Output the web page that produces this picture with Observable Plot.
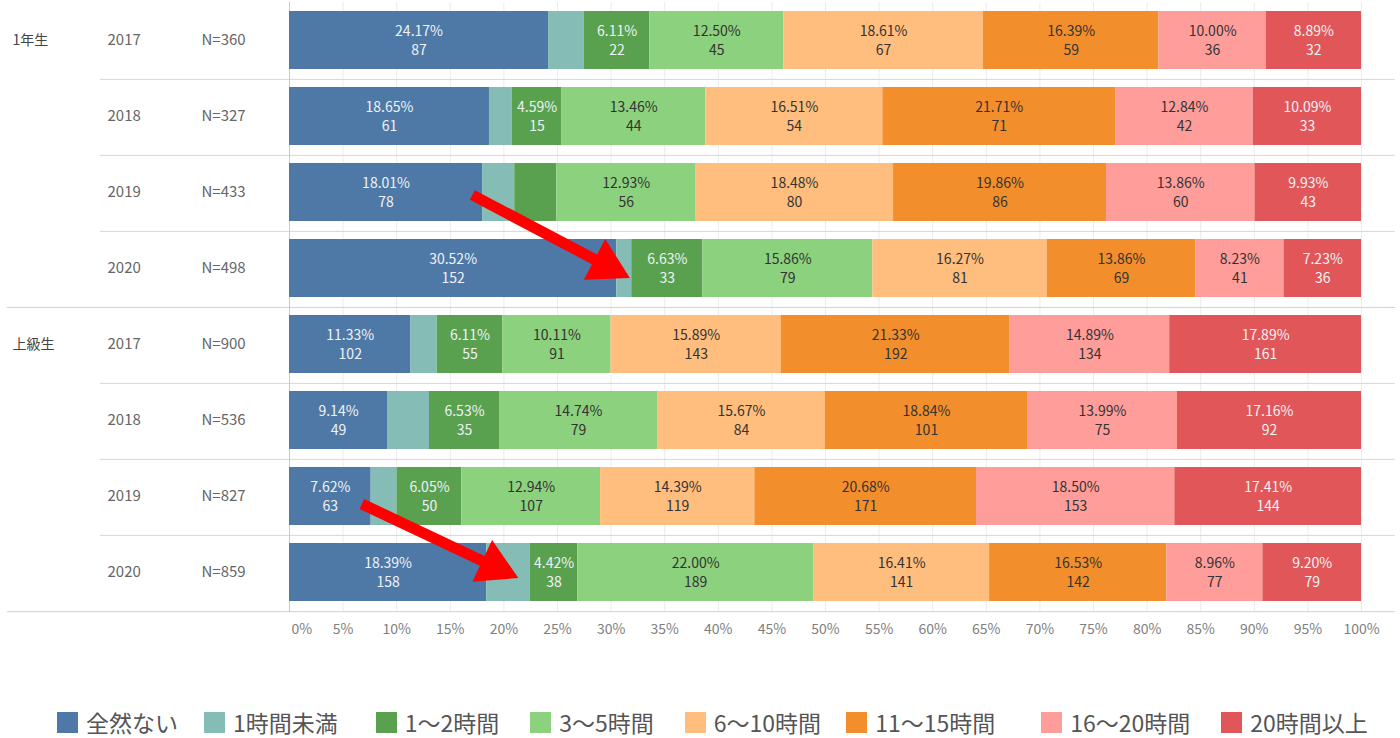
<!DOCTYPE html>
<html><head><meta charset="utf-8">
<script src="https://cdn.jsdelivr.net/npm/d3@7"></script>
<script src="https://cdn.jsdelivr.net/npm/@observablehq/plot@0.6"></script>
<style>
body{margin:0;background:#fff;}
#chart svg{display:block}
#legend{padding-left:57px;margin-top:63px;}
.lg-swatch{margin-right:26px !important;}
.lg-swatch > svg{margin-right:8px !important;}
.lg-swatch:nth-of-type(2){margin-right:38px !important;}
.lg-swatch:nth-of-type(3){margin-right:31px !important;}
.lg-swatch:nth-of-type(4){margin-right:31px !important;}
.lg-swatch:nth-of-type(5){margin-right:25px !important;}
.lg-swatch:nth-of-type(6){margin-right:46px !important;}
.lg-swatch:nth-of-type(7){margin-right:31px !important;}
</style></head><body><div id="chart"></div><div id="legend"></div>
<script>
// ---- data ----
const categories = ["全然ない","1時間未満","1～2時間","3～5時間","6～10時間","11～15時間","16～20時間","20時間以上"];
const colors = ["#4e79a7","#86bcb6","#59a14f","#8cd17d","#ffbe7d","#f28e2b","#ff9d9a","#e15759"];
const groups = ["1年生","1年生","1年生","1年生","上級生","上級生","上級生","上級生"];
const years = [2017,2018,2019,2020,2017,2018,2019,2020];
const totals = [360,327,433,498,900,536,827,859];
const countNone   = [87,61,78,152,102,49,63,158];
const countLt1    = [12,7,13,7,22,21,20,35];
const count1to2   = [22,15,17,33,55,35,50,38];
const count3to5   = [45,44,56,79,91,79,107,189];
const count6to10  = [67,54,80,81,143,84,119,141];
const count11to15 = [59,71,86,69,192,101,171,142];
const count16to20 = [36,42,60,41,134,75,153,77];
const count20plus = [32,33,43,36,161,92,144,79];
const seriesCounts = [countNone,countLt1,count1to2,count3to5,count6to10,count11to15,count16to20,count20plus];
const lightTextCats = ["全然ない","1～2時間","20時間以上"];
const xTicks = [0,5,10,15,20,25,30,35,40,45,50,55,60,65,70,75,80,85,90,95,100];
// annotation arrows (x in %, rows by key)
const arrowFromX = [17.1, 6.8];
const arrowFromRow = ["1年生|2019","上級生|2019"];
const arrowToX = [31.8, 21.4];
const arrowToRow = ["1年生|2020","上級生|2020"];

// ---- build tables ----
const rows = groups.map((g,i)=>({key:`${g}|${years[i]}`, group:g, year:String(years[i]), n:`N=${totals[i]}`, total:totals[i], first: i===0 || groups[i-1]!==g}));
const segs = [];
rows.forEach((r,i)=>{
  let acc = 0;
  categories.forEach((c,j)=>{
    const cnt = seriesCounts[j][i];
    const pct = cnt / r.total * 100;
    segs.push({row:r.key, cat:c, count:cnt, pct, x1:acc, x2:acc+pct});
    acc += pct;
  });
});
const labelSegs = segs.filter(d=>d.pct>=4.2);
const labelText = d=>`${d.pct.toFixed(2)}%\n${d.count}`;
const arrows = arrowFromX.map((v,i)=>({fx:v, fr:arrowFromRow[i], tx:arrowToX[i], tr:arrowToRow[i]}));

const W=1400, H=642, ML=289, MR=39, MT=2, MB=30;
const step = (H-MT-MB)/rows.length;
const font = '"Noto Sans CJK JP","Noto Sans",sans-serif';

function arrowMark(index, scales, values, dimensions, context){
  const {x, y} = scales;
  const bw = y.bandwidth ? y.bandwidth() : 0;
  const g = d3.create("svg:g");
  const shaft = 11, headL = 40, headW = 46;
  const offs = [[2,9],[7,5]];
  arrows.forEach((a,i)=>{
    const x0 = x(a.fx), y0 = y(a.fr)+bw/2+offs[i][0];
    const x1 = x(a.tx), y1 = y(a.tr)+bw/2+offs[i][1];
    const dx = x1-x0, dy = y1-y0, L = Math.hypot(dx,dy);
    const ux = dx/L, uy = dy/L, nx = -uy, ny = ux;
    const bx = x1-ux*headL, by = y1-uy*headL;
    const pts = [
      [x0+nx*shaft/2, y0+ny*shaft/2],
      [bx+nx*shaft/2, by+ny*shaft/2],
      [bx+nx*headW/2, by+ny*headW/2],
      [x1, y1],
      [bx-nx*headW/2, by-ny*headW/2],
      [bx-nx*shaft/2, by-ny*shaft/2],
      [x0-nx*shaft/2, y0-ny*shaft/2]
    ];
    g.append("polygon").attr("points", pts.map(p=>p.join(",")).join(" ")).attr("fill","#ff0000");
  });
  return g.node();
}

const plot = Plot.plot({
  width: W, height: H,
  marginLeft: ML, marginRight: MR, marginTop: MT, marginBottom: MB,
  style: {fontFamily: font, fontSize: "14px", background: "#fff", overflow: "visible"},
  x: {domain: [0,100]},
  y: {domain: rows.map(r=>r.key), paddingInner: 0.24, paddingOuter: 0.12, axis: null},
  color: {domain: categories, range: colors, type: "ordinal"},
  marks: [
    Plot.gridX(xTicks, {stroke: "#ececec", strokeOpacity: 1}),
    Plot.ruleY(rows.filter(r=>!r.first), {y: "key", dy: -step/2, stroke: "#d6d6d6", insetLeft: -(ML-100), insetRight: -34}),
    Plot.ruleY(rows.filter((r,i)=>r.first && i>0), {y: "key", dy: -step/2, stroke: "#d0d0d0", insetLeft: -(ML-7), insetRight: -34}),
    Plot.ruleY(rows.slice(-1), {y: "key", dy: step/2, stroke: "#d0d0d0", insetLeft: -(ML-7), insetRight: -34}),
    Plot.ruleX([0], {stroke: "#c8c8c8"}),
    Plot.barX(segs, {x1: "x1", x2: "x2", y: "row", fill: "cat", dy: -1}),
    Plot.text(labelSegs.filter(d=>lightTextCats.includes(d.cat)), {x: d=>(d.x1+d.x2)/2, y: "row", text: labelText, fill: "#eef2f6", lineHeight: 1.36, fontSize: 14, dy: -2}),
    Plot.text(labelSegs.filter(d=>!lightTextCats.includes(d.cat)), {x: d=>(d.x1+d.x2)/2, y: "row", text: labelText, fill: "#333", lineHeight: 1.36, fontSize: 14, dy: -2}),
    Plot.text(rows.filter(r=>r.first), {y: "key", text: "group", frameAnchor: "left", textAnchor: "start", dx: 12-ML, dy: -1, fill: "#444", fontSize: 14}),
    Plot.text(rows, {y: "key", text: "year", frameAnchor: "left", textAnchor: "start", dx: 107-ML, dy: -1, fill: "#666", fontSize: 15}),
    Plot.text(rows, {y: "key", text: "n", frameAnchor: "left", textAnchor: "start", dx: 201-ML, dy: -1, fill: "#666", fontSize: 15}),
    arrowMark,
    Plot.axisX(xTicks.slice(1), {tickSize: 0, tickPadding: 12, tickFormat: d=>d+"%", color: "#808080", fontSize: 14}),
    Plot.axisX(xTicks.slice(0,1), {tickSize: 0, tickPadding: 12, tickFormat: d=>d+"%", color: "#808080", fontSize: 14, textAnchor: "start", dx: 2})
  ]
});
document.getElementById("chart").appendChild(plot);

const legend = Plot.legend({
  color: {domain: categories, range: colors, type: "ordinal"},
  legend: "swatches", swatchSize: 21, className: "lg",
  style: {fontFamily: font, fontSize: "23px", color: "#555"}
});
document.getElementById("legend").appendChild(legend);
</script></body></html>
